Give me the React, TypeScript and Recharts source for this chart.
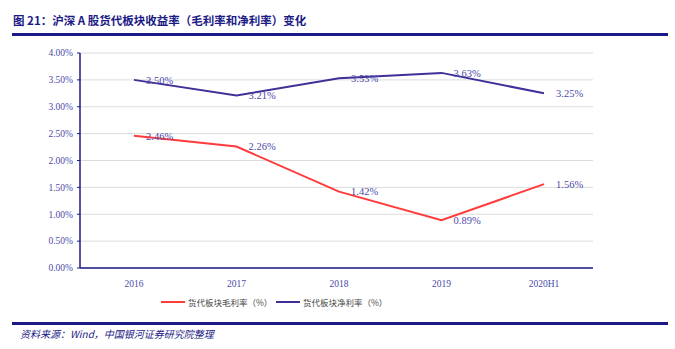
import React from 'react';
import { LineChart, Line, XAxis, YAxis, CartesianGrid, LabelList } from 'recharts';

const categories = ['2016', '2017', '2018', '2019', '2020H1'];
const grossMargin = [2.46, 2.26, 1.42, 0.89, 1.56];
const netMargin = [3.5, 3.21, 3.53, 3.63, 3.25];
const yTicks = [0, 0.5, 1, 1.5, 2, 2.5, 3, 3.5, 4];

const data = categories.map((name, i) => ({
  name,
  gross: grossMargin[i],
  net: netMargin[i],
}));

const NAVY = '#1c1a86';
const RED = '#ff3b3b';
const PURPLE = '#3f2f98';
const LABEL = '#4a4aa8';
const numFont = '"Liberation Serif", "DejaVu Serif", serif';
const cjkFont = '"Noto Sans CJK SC", "Liberation Serif", serif';

const pct = (v: number) => v.toFixed(2) + '%';

export default function App() {
  return (
    <div style={{ position: 'absolute', left: 0, top: 0, width: 675, height: 349, background: '#fff' }}>
      <div
        style={{
          position: 'absolute',
          left: 13,
          top: 12,
          fontFamily: cjkFont,
          fontWeight: 700,
          fontSize: 11.5,
          color: NAVY,
          whiteSpace: 'nowrap',
        }}
      >
        图 21：沪深 A 股货代板块收益率（毛利率和净利率）变化
      </div>
      <div style={{ position: 'absolute', left: 12, top: 33, width: 656, height: 3, background: NAVY }} />

      <div style={{ position: 'absolute', left: 0, top: 0 }}>
        <LineChart width={675} height={349} data={data} margin={{ top: 53, right: 82, bottom: 51, left: 0 }}>
          <CartesianGrid vertical={false} stroke="#dcdcdc" />
          <XAxis
            dataKey="name"
            height={30}
            padding={{ left: 54, right: 49 }}
            axisLine={{ stroke: NAVY, strokeWidth: 1.5 }}
            tickLine={false}
            tickMargin={6}
            tick={{ fill: LABEL, fontSize: 9.5, fontFamily: numFont }}
            interval={0}
          />
          <YAxis
            width={80}
            domain={[0, 4]}
            ticks={yTicks}
            tickFormatter={pct}
            axisLine={{ stroke: NAVY, strokeWidth: 1.5 }}
            tickLine={{ stroke: NAVY }}
            tickSize={3}
            tickMargin={4}
            tick={{ fill: LABEL, fontSize: 9.5, fontFamily: numFont }}
          />
          <Line dataKey="gross" stroke={RED} strokeWidth={2} dot={false} isAnimationActive={false}>
            <LabelList
              dataKey="gross"
              position="right"
              offset={12}
              formatter={(v: any) => pct(Number(v))}
              fill={LABEL}
              fontSize={10.5}
              fontFamily={numFont}
            />
          </Line>
          <Line dataKey="net" stroke={PURPLE} strokeWidth={2} dot={false} isAnimationActive={false}>
            <LabelList
              dataKey="net"
              position="right"
              offset={12}
              formatter={(v: any) => pct(Number(v))}
              fill={LABEL}
              fontSize={10.5}
              fontFamily={numFont}
            />
          </Line>
        </LineChart>
      </div>

      <div
        style={{
          position: 'absolute',
          left: 161,
          top: 296,
          display: 'flex',
          fontFamily: cjkFont,
          fontSize: 8.5,
          color: '#444',
          whiteSpace: 'nowrap',
        }}
      >
        <div style={{ display: 'flex', alignItems: 'center', width: 115 }}>
          <span style={{ display: 'inline-block', width: 24, height: 2, background: RED, marginRight: 3 }} />
          货代板块毛利率（%）
        </div>
        <div style={{ display: 'flex', alignItems: 'center' }}>
          <span style={{ display: 'inline-block', width: 24, height: 2, background: PURPLE, marginRight: 3 }} />
          货代板块净利率（%）
        </div>
      </div>

      <div style={{ position: 'absolute', left: 12, top: 322, width: 656, height: 3, background: NAVY }} />
      <div
        style={{
          position: 'absolute',
          left: 20,
          top: 326,
          fontFamily: cjkFont,
          fontStyle: 'italic',
          fontSize: 10,
          color: NAVY,
          whiteSpace: 'nowrap',
        }}
      >
        资料来源：Wind，中国银河证券研究院整理
      </div>
    </div>
  );
}
